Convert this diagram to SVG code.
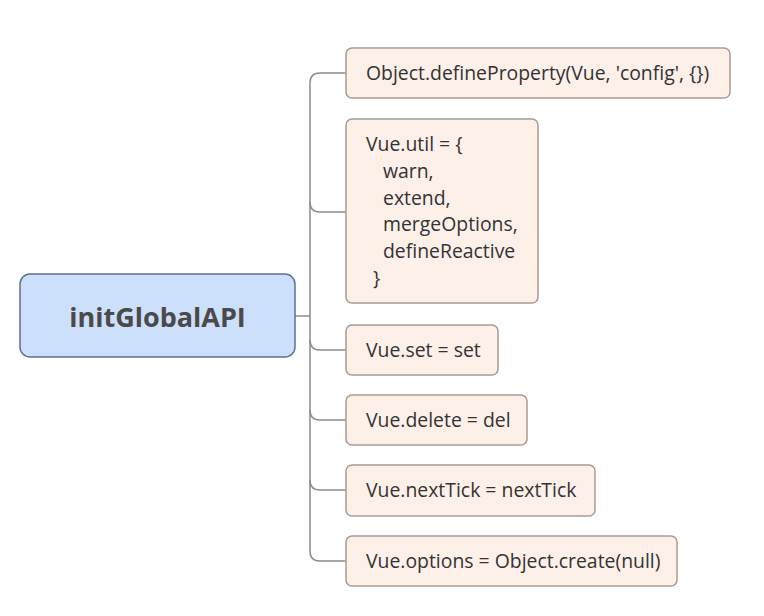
<svg xmlns="http://www.w3.org/2000/svg" width="764" height="616" viewBox="0 0 764 616">
<style>
.box{fill:#fdf0e9;stroke:#a89c94;stroke-width:1.5}
.root{fill:#cde0fb;stroke:#5d7191;stroke-width:1.5}
.t{font-family:"Open Sans","Noto Sans",sans-serif;font-size:19.4px;fill:#333}
.rt{font-family:"Open Sans","Noto Sans",sans-serif;font-size:27px;font-weight:bold;fill:#4a4a4a}
.c{fill:none;stroke:#8c8c8c;stroke-width:1.5}
</style>
<rect width="764" height="616" fill="#fff"/>
<g id="connectors">
<path class="c" d="M295,316 H310"/>
<path class="c" d="M346,73 H320 Q310,73 310,83 V551 Q310,561 320,561 H346"/>
<path class="c" d="M346,212 H320 Q310,212 310,202"/>
<path class="c" d="M346,350 H320 Q310,350 310,340"/>
<path class="c" d="M346,420 H320 Q310,420 310,410"/>
<path class="c" d="M346,490 H320 Q310,490 310,480"/>
</g>
<g id="root">
<rect class="root" x="20" y="274" width="275" height="83" rx="10"/>
<text class="rt" x="157.5" y="327" text-anchor="middle">initGlobalAPI</text>
</g>
<g id="n1">
<rect class="box" x="346" y="48" width="384" height="50" rx="6"/>
<text class="t" x="366" y="80">Object.defineProperty(Vue, 'config', {})</text>
</g>
<g id="n2">
<rect class="box" x="346" y="119" width="192" height="184" rx="6"/>
<text class="t" x="366" y="151">Vue.util = {</text>
<text class="t" x="383" y="178">warn,</text>
<text class="t" x="383" y="205">extend,</text>
<text class="t" x="383" y="231">mergeOptions,</text>
<text class="t" x="383" y="258">defineReactive</text>
<text class="t" x="373" y="285">}</text>
</g>
<g id="n3">
<rect class="box" x="346" y="325" width="152" height="50" rx="6"/>
<text class="t" x="366" y="357">Vue.set = set</text>
</g>
<g id="n4">
<rect class="box" x="346" y="395" width="181" height="50" rx="6"/>
<text class="t" x="366" y="427">Vue.delete = del</text>
</g>
<g id="n5">
<rect class="box" x="346" y="465" width="249" height="51" rx="6"/>
<text class="t" x="366" y="497">Vue.nextTick = nextTick</text>
</g>
<g id="n6">
<rect class="box" x="346" y="536" width="331" height="50" rx="6"/>
<text class="t" x="366" y="568">Vue.options = Object.create(null)</text>
</g>
</svg>
